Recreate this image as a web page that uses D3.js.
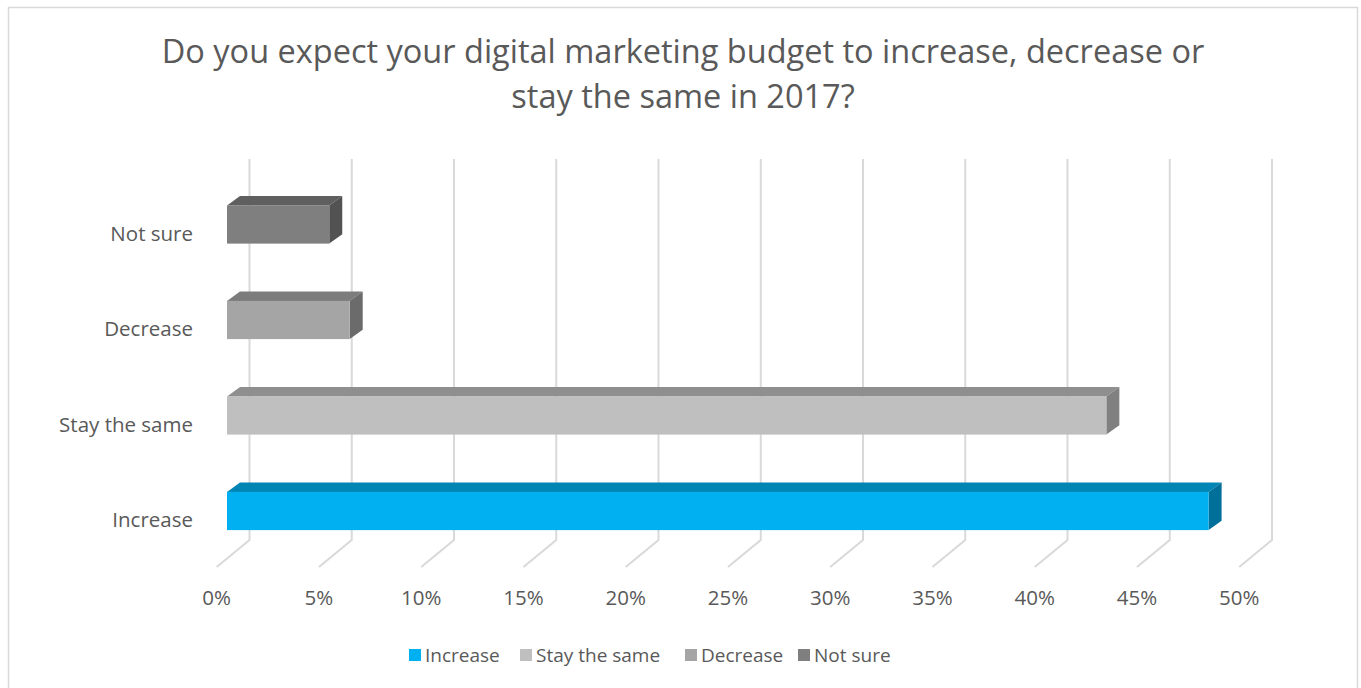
<!DOCTYPE html>
<html>
<head>
<meta charset="utf-8">
<script src="https://cdn.jsdelivr.net/npm/d3@7"></script>
<style>
  body { margin: 0; background: #fff; }
  text { font-family: "Open Sans", sans-serif; fill: #595959; }
</style>
</head>
<body>
<div id="chart"></div>
<script>
// data
var categories = ["Increase", "Stay the same", "Decrease", "Not sure"];
var values = [0.48, 0.43, 0.06, 0.05];
var ticks = [0, 0.05, 0.10, 0.15, 0.20, 0.25, 0.30, 0.35, 0.40, 0.45, 0.50];
var frontColors = ["#00B0F0", "#BFBFBF", "#A5A5A5", "#7F7F7F"];
var topColors = ["#0085B5", "#8F8F8F", "#7C7C7C", "#5F5F5F"];
var sideColors = ["#006F99", "#808080", "#6B6B6B", "#525252"];
var titleLines = ["Do you expect your digital marketing budget to increase, decrease or",
                  "stay the same in 2017?"];

var width = 1361, height = 688;

var svg = d3.select("#chart").append("svg")
  .attr("width", width)
  .attr("height", height);

// chart border
svg.append("rect")
  .attr("x", 8.5).attr("y", 7.5)
  .attr("width", 1349).attr("height", 700)
  .attr("fill", "#fff")
  .attr("stroke", "#d9d9d9")
  .attr("stroke-width", 1.5);

// title
svg.append("g").selectAll("text")
  .data(titleLines)
  .enter().append("text")
  .attr("x", 683)
  .attr("y", function(d, i) { return 63 + i * 45; })
  .attr("text-anchor", "middle")
  .style("font-size", "32.5px")
  .text(function(d) { return d; });

var x = d3.scaleLinear()
  .domain([0, 0.5])
  .range([227, 1249.5]);

var y = d3.scaleBand()
  .domain(categories)
  .range([558.75, 176.75])
  .paddingInner(0.6)
  .paddingOuter(0.3);

// 3d offsets
var wallDx = 22.5, floorDx = -10.3, wallTop = 159, wallBottom = 540, floorY = 567;
var depthDx = 13, depthDy = -9.3;

// gridlines: back wall + floor
var grid = svg.append("g").attr("class", "grid");
grid.selectAll("path")
  .data(ticks)
  .enter().append("path")
  .attr("fill", "none")
  .attr("stroke", "#d9d9d9")
  .attr("stroke-width", 2)
  .attr("d", function(d) {
    var xb = x(d) + wallDx, xf = x(d) + floorDx;
    return "M" + xb + "," + wallTop + "L" + xb + "," + wallBottom + "L" + xf + "," + floorY;
  });

// tick labels
svg.append("g").selectAll("text")
  .data(ticks)
  .enter().append("text")
  .attr("x", function(d) { return x(d) + floorDx; })
  .attr("y", 605)
  .attr("text-anchor", "middle")
  .style("font-size", "20.5px")
  .text(d3.format(".0%"));

// category labels
svg.append("g").selectAll("text")
  .data(categories)
  .enter().append("text")
  .attr("x", 193)
  .attr("y", function(d) { return y(d) + y.bandwidth() / 2 + 16; })
  .attr("text-anchor", "end")
  .style("font-size", "20.5px")
  .text(function(d) { return d; });

// bars
var bars = svg.append("g").selectAll("g")
  .data(categories)
  .enter().append("g");

bars.append("path")
  .attr("fill", function(d, i) { return topColors[i]; })
  .attr("d", function(d, i) {
    var x0 = x(0), x1 = x(values[i]), yt = y(d);
    return "M" + x0 + "," + yt + "L" + (x0 + depthDx) + "," + (yt + depthDy) +
      "L" + (x1 + depthDx) + "," + (yt + depthDy) + "L" + x1 + "," + yt + "Z";
  });

bars.append("path")
  .attr("fill", function(d, i) { return sideColors[i]; })
  .attr("d", function(d, i) {
    var x1 = x(values[i]), yt = y(d), yb = y(d) + y.bandwidth();
    return "M" + x1 + "," + yt + "L" + (x1 + depthDx) + "," + (yt + depthDy) +
      "L" + (x1 + depthDx) + "," + (yb + depthDy) + "L" + x1 + "," + yb + "Z";
  });

bars.append("rect")
  .attr("x", x(0))
  .attr("y", function(d) { return y(d); })
  .attr("width", function(d, i) { return x(values[i]) - x(0); })
  .attr("height", y.bandwidth())
  .attr("fill", function(d, i) { return frontColors[i]; });

// legend
var legendX = [409, 520, 685, 798];
var legend = svg.append("g").selectAll("g")
  .data(categories)
  .enter().append("g")
  .attr("transform", function(d, i) { return "translate(" + legendX[i] + ",649)"; });

legend.append("rect")
  .attr("width", 12).attr("height", 12)
  .attr("fill", function(d, i) { return frontColors[i]; });

legend.append("text")
  .attr("x", 16)
  .attr("y", 13)
  .style("font-size", "19px")
  .text(function(d) { return d; });
</script>
</body>
</html>
